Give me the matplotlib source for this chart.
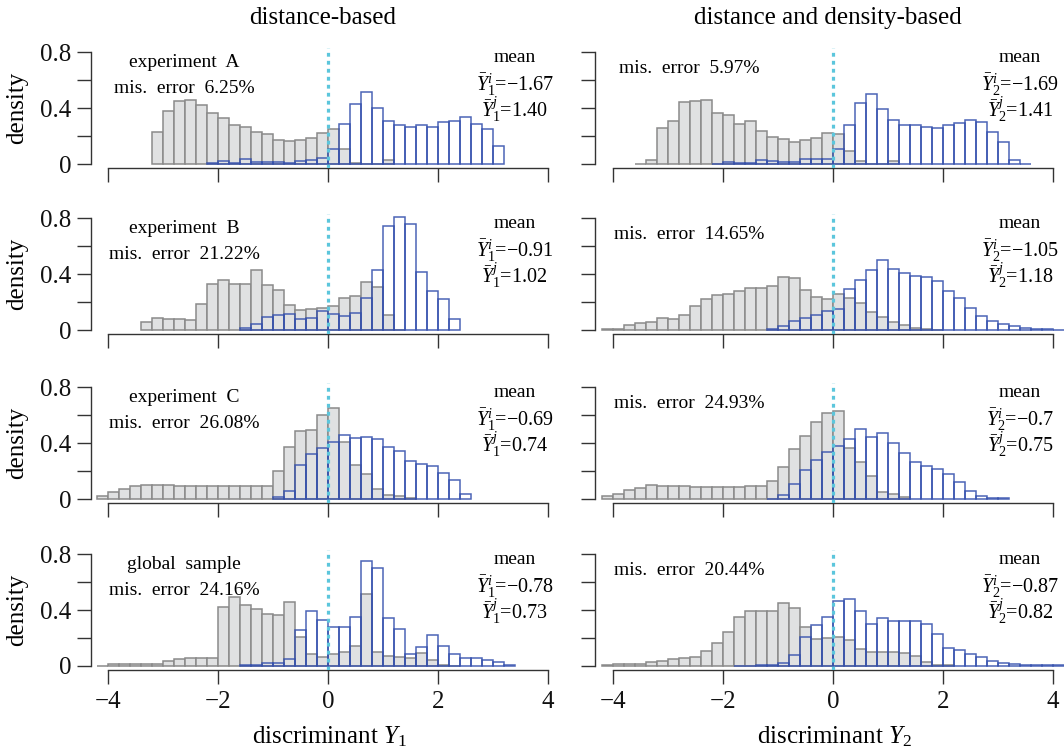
import numpy as np
import matplotlib
matplotlib.use("Agg")
import matplotlib.pyplot as plt

plt.rcParams['font.family'] = ['Liberation Serif', 'DejaVu Serif']
plt.rcParams['mathtext.fontset'] = 'custom'
plt.rcParams['mathtext.rm'] = 'Liberation Serif'
plt.rcParams['mathtext.it'] = 'Liberation Serif:italic'
plt.rcParams['mathtext.bf'] = 'Liberation Serif:bold'

# ---------------- data (bin width 0.2) ----------------
BIN = 0.2
col_titles = ["distance-based", "distance and density-based"]
col_xlabels = ["discriminant $Y_1$", "discriminant $Y_2$"]
row_names = ["experiment  A", "experiment  B", "experiment  C", "global  sample"]

# distance-based (left column)
gray_start_A1 = -3.2
gray_A1 = [0.229, 0.383, 0.45, 0.462, 0.426, 0.367, 0.333, 0.279, 0.269, 0.231, 0.212, 0.171,
           0.164, 0.174, 0.19, 0.221, 0.25, 0.105, 0.005, 0.0, 0.0, 0.03]
blue_start_A1 = -2.2
blue_A1 = [0.005, 0.02, 0.007, 0.033, 0.017, 0.014, 0.012, 0.007, 0.024, 0.029, 0.043,
           0.105, 0.288, 0.429, 0.519, 0.405, 0.305, 0.279, 0.269, 0.281, 0.262, 0.302, 0.307,
           0.34, 0.286, 0.248, 0.126]

gray_start_B1 = -3.4
gray_B1 = [0.059, 0.085, 0.08, 0.08, 0.075, 0.184, 0.329, 0.358, 0.332, 0.332, 0.431, 0.32,
           0.285, 0.176, 0.144, 0.148, 0.155, 0.172, 0.228, 0.242, 0.346, 0.306, 0.111, 0.0]
blue_start_B1 = -1.6
blue_B1 = [0.014, 0.045, 0.092, 0.108, 0.113, 0.08, 0.089, 0.134, 0.118, 0.104, 0.122, 0.231,
           0.433, 0.744, 0.814, 0.758, 0.419, 0.278, 0.219, 0.078]

gray_start_C1 = -4.2
gray_C1 = [0.025, 0.049, 0.069, 0.09, 0.102, 0.102, 0.097, 0.095, 0.092, 0.09, 0.09, 0.09,
           0.09, 0.09, 0.092, 0.092, 0.2, 0.375, 0.486, 0.497, 0.606, 0.654, 0.409, 0.243,
           0.18, 0.072, 0.028, 0.021, 0.005]
blue_start_C1 = -1.0
blue_C1 = [0.012, 0.06, 0.247, 0.321, 0.368, 0.409, 0.458, 0.437, 0.444, 0.432, 0.37, 0.342,
           0.275, 0.25, 0.234, 0.185, 0.139, 0.037]

gray_start_D1 = -4.2
gray_D1 = [0.003, 0.014, 0.014, 0.012, 0.012, 0.012, 0.038, 0.052, 0.057, 0.06, 0.06, 0.421,
           0.498, 0.44, 0.412, 0.374, 0.364, 0.457, 0.21, 0.088, 0.067, 0.086, 0.102, 0.145,
           0.515, 0.102, 0.069, 0.064, 0.06, 0.095, 0.043, 0.01, 0.003]
blue_start_D1 = -1.6
blue_D1 = [0.007, 0.01, 0.024, 0.024, 0.052, 0.26, 0.395, 0.331, 0.279, 0.283, 0.352, 0.755,
           0.705, 0.343, 0.269, 0.083, 0.133, 0.221, 0.143, 0.088, 0.057, 0.055, 0.043, 0.031,
           0.01]

# distance and density-based (right column)
gray_start_A2 = -3.6
gray_A2 = [0.003, 0.029, 0.257, 0.31, 0.445, 0.45, 0.457, 0.364, 0.352, 0.286, 0.31, 0.236,
           0.195, 0.176, 0.16, 0.171, 0.186, 0.221, 0.214, 0.095, 0.021, 0.0, 0.0, 0.021]
blue_start_A2 = -2.2
blue_A2 = [0.003, 0.014, 0.007, 0.007, 0.029, 0.024, 0.012, 0.014, 0.036, 0.036, 0.036,
           0.105, 0.283, 0.436, 0.505, 0.398, 0.319, 0.279, 0.283, 0.267, 0.26, 0.279, 0.295,
           0.314, 0.3, 0.226, 0.155, 0.029, 0.003]

gray_start_B2 = -4.2
gray_B2 = [0.007, 0.007, 0.033, 0.047, 0.059, 0.088, 0.08, 0.107, 0.173, 0.22, 0.251, 0.258,
           0.277, 0.3, 0.3, 0.315, 0.379, 0.372, 0.286, 0.237, 0.22, 0.256, 0.23, 0.192, 0.13,
           0.095, 0.054, 0.033, 0.017, 0.009, 0.003]
blue_start_B2 = -1.2
blue_B2 = [0.009, 0.028, 0.064, 0.088, 0.109, 0.133, 0.154, 0.293, 0.362, 0.433, 0.499, 0.438,
           0.407, 0.386, 0.379, 0.35, 0.279, 0.232, 0.156, 0.097, 0.062, 0.045, 0.026, 0.012,
           0.005, 0.004, 0.003, 0.002]

gray_start_C2 = -4.2
gray_C2 = [0.021, 0.038, 0.064, 0.08, 0.097, 0.095, 0.092, 0.09, 0.088, 0.088, 0.088, 0.088,
           0.088, 0.09, 0.09, 0.128, 0.227, 0.357, 0.454, 0.554, 0.62, 0.634, 0.369, 0.263,
           0.163, 0.05, 0.038, 0.017]
blue_start_C2 = -1.2
blue_C2 = [0.003, 0.031, 0.107, 0.208, 0.277, 0.334, 0.383, 0.433, 0.5, 0.447, 0.473, 0.4,
           0.329, 0.263, 0.237, 0.213, 0.178, 0.125, 0.054, 0.019, 0.007, 0.005]

gray_start_D2 = -4.2
gray_D2 = [0.008, 0.012, 0.012, 0.014, 0.026, 0.035, 0.047, 0.054, 0.066, 0.106, 0.165, 0.247,
           0.348, 0.398, 0.398, 0.398, 0.449, 0.416, 0.28, 0.193, 0.2, 0.209, 0.186, 0.125,
           0.099, 0.099, 0.099, 0.094, 0.07, 0.026, 0.01, 0.005]
blue_start_D2 = -1.8
blue_D2 = [0.003, 0.003, 0.005, 0.008, 0.02, 0.082, 0.205, 0.292, 0.355, 0.464, 0.48, 0.398,
           0.299, 0.341, 0.325, 0.325, 0.32, 0.299, 0.233, 0.129, 0.113, 0.087, 0.064, 0.035,
           0.022, 0.016, 0.01, 0.008, 0.006, 0.005, 0.003]

mis_error_left = ["6.25%", "21.22%", "26.08%", "24.16%"]
mis_error_right = ["5.97%", "14.65%", "24.93%", "20.44%"]
mean_i_left = ["\u22121.67", "\u22120.91", "\u22120.69", "\u22120.78"]
mean_j_left = ["1.40", "1.02", "0.74", "0.73"]
mean_i_right = ["\u22121.69", "\u22121.05", "\u22120.7", "\u22120.87"]
mean_j_right = ["1.41", "1.18", "0.75", "0.82"]

xticks = [-4, -2, 0, 2, 4]
xticklabels = ["\u22124", "\u22122", "0", "2", "4"]
yticks = [0, 0.2, 0.4, 0.6, 0.8]
yticklabels = ["0", "", "0.4", "", "0.8"]

panels = [
    [(gray_start_A1, gray_A1, blue_start_A1, blue_A1), (gray_start_A2, gray_A2, blue_start_A2, blue_A2)],
    [(gray_start_B1, gray_B1, blue_start_B1, blue_B1), (gray_start_B2, gray_B2, blue_start_B2, blue_B2)],
    [(gray_start_C1, gray_C1, blue_start_C1, blue_C1), (gray_start_C2, gray_C2, blue_start_C2, blue_C2)],
    [(gray_start_D1, gray_D1, blue_start_D1, blue_D1), (gray_start_D2, gray_D2, blue_start_D2, blue_D2)],
]

# ---------------- layout ----------------
W, H = 1064, 756
fig = plt.figure(figsize=(W / 100, H / 100), dpi=100)

XLIM = (-4.32, 4.32)
YLIM = (-0.032, 0.832)
row_zero_px = [164, 330, 499, 666]
col_zero_px = [328, 833]
col_scale = [54.9, 55.0]
y_scale = 139.4

GRAY_FACE = '#E0E1E2'
GRAY_EDGE = '#8A8A8A'
BLUE_EDGE = (0.20, 0.31, 0.68, 0.88)
CYAN = '#5CC6DC'
AX_COL = '#333333'

for r in range(4):
    for c in range(2):
        left_px = col_zero_px[c] + XLIM[0] * col_scale[c]
        width_px = (XLIM[1] - XLIM[0]) * col_scale[c]
        top_px = row_zero_px[r] - YLIM[1] * y_scale
        height_px = (YLIM[1] - YLIM[0]) * y_scale
        ax = fig.add_axes([left_px / W, 1 - (top_px + height_px) / H, width_px / W, height_px / H])
        ax.set_xlim(*XLIM)
        ax.set_ylim(*YLIM)
        ax.patch.set_alpha(0)

        gs, gv, bs, bv = panels[r][c]
        gx = gs + BIN * np.arange(len(gv))
        bx = bs + BIN * np.arange(len(bv))
        ax.bar(gx, gv, width=BIN, align='edge', facecolor=GRAY_FACE,
               edgecolor=GRAY_EDGE, linewidth=1.1, zorder=2)
        ax.bar(bx, bv, width=BIN, align='edge', facecolor='none',
               edgecolor=BLUE_EDGE, linewidth=1.1, zorder=3)
        ax.axvline(0, color=CYAN, linestyle=(0, (1.2, 1.3)), linewidth=2.3, zorder=4)

        for s in ['top', 'right']:
            ax.spines[s].set_visible(False)
        ax.spines['left'].set_bounds(0, 0.8)
        ax.spines['bottom'].set_bounds(-4, 4)
        for s in ['left', 'bottom']:
            ax.spines[s].set_color(AX_COL)
            ax.spines[s].set_linewidth(1.0)
        ax.tick_params(direction='out', length=10, width=1.0, color=AX_COL,
                       labelsize=18, labelcolor='#111111')
        ax.tick_params(axis='y', pad=4)
        ax.tick_params(axis='x', pad=5)
        ax.set_xticks(xticks)
        ax.set_yticks(yticks)
        if r == 3:
            ax.set_xticklabels(xticklabels)
        else:
            ax.set_xticklabels([])
        if c == 0:
            ax.set_yticklabels(yticklabels)
        else:
            ax.set_yticklabels([])

        sub = str(c + 1)
        if c == 0:
            ax.text(-2.62, 0.73, row_names[r], ha='center', va='center', fontsize=14)
            ax.text(-2.62, 0.545, "mis.  error  " + mis_error_left[r], ha='center', va='center', fontsize=14)
            mi, mj = mean_i_left[r], mean_j_left[r]
        else:
            ax.text(-2.62, 0.685, "mis.  error  " + mis_error_right[r], ha='center', va='center', fontsize=14)
            mi, mj = mean_i_right[r], mean_j_right[r]
        ax.text(3.4, 0.765, "mean", ha='center', va='center', fontsize=14)
        ax.text(3.4, 0.57, r"$\bar{Y}^{i}_{" + sub + r"}$" + "=" + mi, ha='center', va='center', fontsize=14.5)
        ax.text(3.4, 0.385, r"$\bar{Y}^{j}_{" + sub + r"}$" + "=" + mj, ha='center', va='center', fontsize=14.5)

    # y label per row
    fig.text(17 / W, 1 - (row_zero_px[r] - 0.4 * y_scale) / H, "density", rotation=90,
             ha='center', va='center', fontsize=18)

# column titles and x labels
for c in range(2):
    fig.text((col_zero_px[c] - 5) / W, 1 - 18 / H, col_titles[c], ha='center', va='center', fontsize=18)
    fig.text((col_zero_px[c] + 1) / W, 1 - 737 / H, col_xlabels[c], ha='center', va='center', fontsize=18)

fig.savefig("out.png", dpi=100)
